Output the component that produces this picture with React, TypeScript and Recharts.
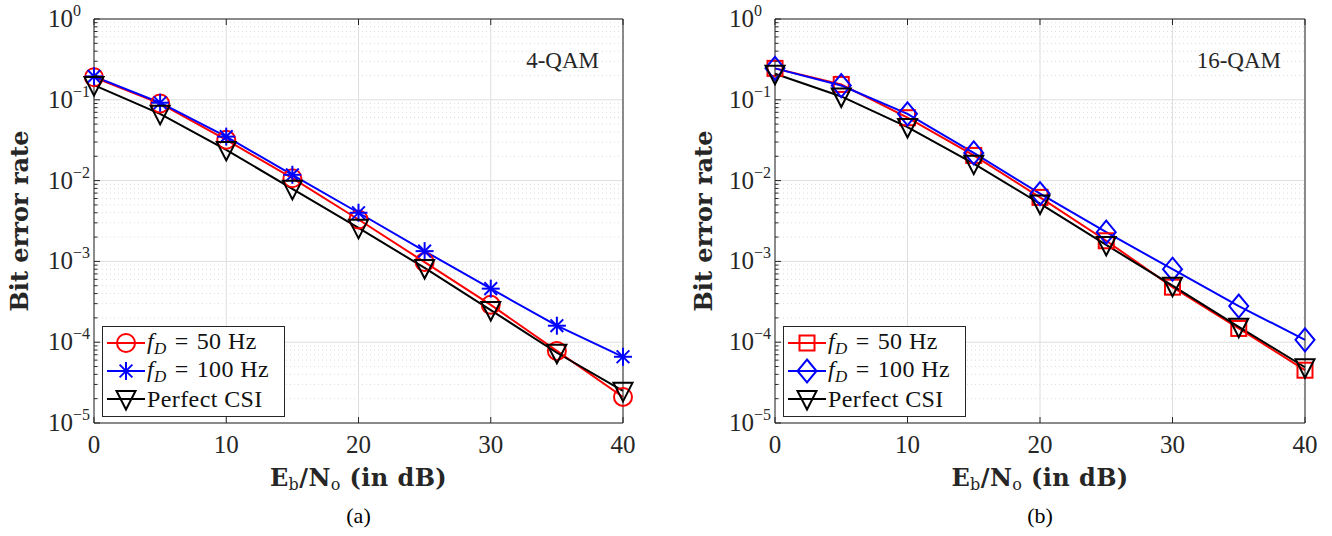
import React from 'react';
import { LineChart, Line, XAxis, YAxis, CartesianGrid } from 'recharts';

// Eb/No in dB
const snr = [0, 5, 10, 15, 20, 25, 30, 35, 40];

// (a) 4-QAM
const qam4Fd50 = [0.19, 0.09, 0.032, 0.0107, 0.0033, 0.00098, 0.00029, 7.8e-5, 2.1e-5];
const qam4Fd100 = [0.195, 0.092, 0.035, 0.0118, 0.004, 0.00134, 0.00046, 0.00016, 6.6e-5];
const qam4Csi = [0.152, 0.067, 0.024, 0.0079, 0.0026, 0.00083, 0.00025, 7.4e-5, 2.5e-5];

// (b) 16-QAM
const qam16Fd50 = [0.245, 0.155, 0.06, 0.0205, 0.0062, 0.0018, 0.00048, 0.000148, 4.5e-5];
const qam16Fd100 = [0.245, 0.15, 0.067, 0.022, 0.0069, 0.0023, 0.0008, 0.00028, 0.000107];
const qam16Csi = [0.21, 0.11, 0.046, 0.0162, 0.0052, 0.0016, 0.0005, 0.000155, 4.9e-5];

const xTicks = [0, 10, 20, 30, 40];
const yMajor = [1e-5, 1e-4, 1e-3, 1e-2, 1e-1, 1];
const yMinor: number[] = [];
for (let k = -5; k < 0; k++) {
  for (let m = 2; m <= 9; m++) yMinor.push(m * Math.pow(10, k));
}
const yTicks = [...yMajor, ...yMinor].sort((a, b) => a - b);

const AXIS = '#262626';
const GRID = '#dedede';
const SERIF = '"Liberation Serif", "Times New Roman", serif';
const BOLD = '"DejaVu Serif", serif';

const PLOT_TOP = 19;
const PLOT_BOTTOM = 423;
const W = 660;
const H = 536;
const LEGEND_W = 183;

type Shape = 'circle' | 'star' | 'triangle' | 'square' | 'diamond';

interface Series {
  key: string;
  label: string; // empty -> "f_D = <hz> Hz"
  hz?: number;
  color: string;
  shape: Shape;
  values: number[];
}

function Marker({ shape, cx, cy, color }: { shape: Shape; cx: number; cy: number; color: string }) {
  const sw = 2;
  switch (shape) {
    case 'circle':
      return <circle cx={cx} cy={cy} r={9} fill="none" stroke={color} strokeWidth={sw} />;
    case 'star': {
      const r = 9;
      const d = r * 0.7071;
      return (
        <g stroke={color} strokeWidth={sw}>
          <line x1={cx} y1={cy - r} x2={cx} y2={cy + r} />
          <line x1={cx - r} y1={cy} x2={cx + r} y2={cy} />
          <line x1={cx - d} y1={cy - d} x2={cx + d} y2={cy + d} />
          <line x1={cx - d} y1={cy + d} x2={cx + d} y2={cy - d} />
        </g>
      );
    }
    case 'triangle':
      return (
        <polygon
          points={`${cx - 9.5},${cy - 8} ${cx + 9.5},${cy - 8} ${cx},${cy + 10.5}`}
          fill="none"
          stroke={color}
          strokeWidth={sw}
        />
      );
    case 'square':
      return <rect x={cx - 7.5} y={cy - 7.5} width={15} height={15} fill="none" stroke={color} strokeWidth={sw} />;
    case 'diamond':
      return (
        <polygon
          points={`${cx},${cy - 11.5} ${cx + 9.5},${cy} ${cx},${cy + 11.5} ${cx - 9.5},${cy}`}
          fill="none"
          stroke={color}
          strokeWidth={sw}
        />
      );
    default:
      return null;
  }
}

const isDecade = (v: number) => Math.abs(Math.log10(v) - Math.round(Math.log10(v))) < 1e-9;

const LeftTick = (props: any) => {
  const { x, y, payload } = props;
  const v = payload.value;
  const major = isDecade(v);
  const exp = Math.round(Math.log10(v));
  return (
    <g>
      <line x1={x} x2={x + (major ? 6 : 3.5)} y1={y} y2={y} stroke={AXIS} strokeWidth={1} />
      {major && (
        <text x={x - 21} y={y + 8} textAnchor="end" fontFamily={SERIF} fontSize={25} fill="#262626">
          10
        </text>
      )}
      {major && (
        <text x={x - 21} y={y - 3} textAnchor="start" fontFamily={SERIF} fontSize={16} fill="#262626">
          {exp === 0 ? '0' : '\u2212' + Math.abs(exp)}
        </text>
      )}
    </g>
  );
};

const RightTick = (props: any) => {
  const { x, y, payload } = props;
  const major = isDecade(payload.value);
  return <line x1={x} x2={x - (major ? 6 : 3.5)} y1={y} y2={y} stroke={AXIS} strokeWidth={1} />;
};

const BottomTick = (props: any) => {
  const { x, y, payload } = props;
  return (
    <g>
      <line x1={x} x2={x} y1={y} y2={y - 6} stroke={AXIS} strokeWidth={1} />
      <text x={x} y={y + 30} textAnchor="middle" fontFamily={SERIF} fontSize={25} fill="#262626">
        {payload.value}
      </text>
    </g>
  );
};

const TopTick = (props: any) => {
  const { x, y } = props;
  return <line x1={x} x2={x} y1={y} y2={y + 6} stroke={AXIS} strokeWidth={1} />;
};

function LegendLabel({ s }: { s: Series }) {
  if (s.hz !== undefined) {
    return (
      <span>
        <i>f</i>
        <sub style={{ fontSize: 17, fontStyle: 'italic', verticalAlign: -5 }}>D</sub>
        <span style={{ margin: '0 8px' }}>=</span>
        {s.hz} Hz
      </span>
    );
  }
  return <span>{s.label}</span>;
}

function Panel({
  divLeft,
  plotLeft,
  plotRight,
  series,
  tag,
  caption,
  ylabelX,
}: {
  divLeft: number;
  plotLeft: number;
  plotRight: number;
  series: Series[];
  tag: string;
  caption: string;
  ylabelX: number;
}) {
  const rows = snr.map((s, i) => {
    const r: Record<string, number> = { snr: s };
    series.forEach((d) => (r[d.key] = d.values[i]));
    return r;
  });
  // axes are 1px wide/high (Recharts skips axes of size 0)
  const margin = {
    top: PLOT_TOP - 1,
    bottom: H - PLOT_BOTTOM - 1,
    left: plotLeft - divLeft - 1,
    right: divLeft + W - plotRight - 1,
  };
  const mid = (plotLeft + plotRight) / 2;

  return (
    <>
      <div style={{ position: 'absolute', left: divLeft, top: 0, width: W, height: H }}>
        <LineChart width={W} height={H} data={rows} margin={margin}>
          <CartesianGrid horizontalValues={yMinor} vertical={false} stroke="#dcdcdc" strokeDasharray="1 3" />
          <CartesianGrid horizontalValues={yMajor} verticalValues={xTicks} stroke={GRID} />
          <XAxis
            dataKey="snr"
            type="number"
            domain={[0, 40]}
            ticks={xTicks}
            interval={0}
            height={1}
            tickSize={0}
            tickMargin={0}
            tickLine={false}
            axisLine={{ stroke: AXIS }}
            tick={BottomTick}
          />
          <XAxis
            xAxisId="top"
            orientation="top"
            dataKey="snr"
            type="number"
            domain={[0, 40]}
            ticks={xTicks}
            interval={0}
            height={1}
            tickSize={0}
            tickMargin={0}
            tickLine={false}
            axisLine={{ stroke: AXIS }}
            tick={TopTick}
          />
          <YAxis
            scale="log"
            type="number"
            domain={[1e-5, 1]}
            ticks={yTicks}
            interval={0}
            width={1}
            tickSize={0}
            tickMargin={0}
            tickLine={false}
            axisLine={{ stroke: AXIS }}
            tick={LeftTick}
          />
          <YAxis
            yAxisId="right"
            orientation="right"
            scale="log"
            type="number"
            domain={[1e-5, 1]}
            ticks={yTicks}
            interval={0}
            width={1}
            tickSize={0}
            tickMargin={0}
            tickLine={false}
            axisLine={{ stroke: AXIS }}
            tick={RightTick}
          />
          {series.map((s) => (
            <Line
              key={s.key}
              dataKey={s.key}
              stroke={s.color}
              strokeWidth={2}
              isAnimationActive={false}
              activeDot={false}
              dot={(p: any) => (
                <Marker key={`${s.key}-${p.index}`} shape={s.shape} cx={p.cx} cy={p.cy} color={s.color} />
              )}
            />
          ))}
        </LineChart>
      </div>

      {/* y label */}
      <div
        style={{
          position: 'absolute',
          left: ylabelX,
          top: (PLOT_TOP + PLOT_BOTTOM) / 2,
          transform: 'translate(-50%, -50%) rotate(-90deg)',
          whiteSpace: 'nowrap',
          fontFamily: BOLD,
          fontWeight: 'bold',
          fontSize: 24,
          color: '#262626',
          lineHeight: 1,
        }}
      >
        Bit error rate
      </div>

      {/* x label */}
      <div
        style={{
          position: 'absolute',
          left: mid,
          top: 479,
          transform: 'translate(-50%, -50%)',
          whiteSpace: 'nowrap',
          fontFamily: BOLD,
          fontWeight: 'bold',
          fontSize: 24,
          letterSpacing: 0.4,
          color: '#262626',
          lineHeight: 1,
        }}
      >
        E<sub style={{ fontSize: 16, fontWeight: 'normal', verticalAlign: -4 }}>b</sub>/N
        <sub style={{ fontSize: 16, fontWeight: 'normal', verticalAlign: -4 }}>o</sub> (in dB)
      </div>

      {/* caption */}
      <div
        style={{
          position: 'absolute',
          left: mid,
          top: 516,
          transform: 'translate(-50%, -50%)',
          fontFamily: SERIF,
          fontSize: 22,
          lineHeight: 1,
        }}
      >
        {caption}
      </div>

      {/* modulation tag */}
      <div
        style={{
          position: 'absolute',
          right: 1332 - plotRight + 24,
          top: 60,
          transform: 'translateY(-50%)',
          fontFamily: SERIF,
          fontSize: 23,
          lineHeight: 1,
          color: '#262626',
        }}
      >
        {tag}
      </div>

      {/* legend */}
      <div
        style={{
          position: 'absolute',
          left: plotLeft + 8,
          top: 326,
          width: LEGEND_W,
          height: 91,
          border: `1px solid ${AXIS}`,
          background: '#fff',
          boxSizing: 'border-box',
          paddingTop: 2,
        }}
      >
        {series.map((s) => (
          <div key={s.key} style={{ display: 'flex', alignItems: 'center', height: 28 }}>
            <svg width={40} height={28} style={{ flex: 'none', marginLeft: 3 }}>
              <line x1={1} x2={39} y1={14} y2={14} stroke={s.color} strokeWidth={2} />
              <Marker shape={s.shape} cx={20} cy={14} color={s.color} />
            </svg>
            <div
              style={{
                fontFamily: SERIF,
                fontSize: 24,
                letterSpacing: 0.4,
                whiteSpace: 'nowrap',
                color: '#111',
                lineHeight: 1,
                marginLeft: 1,
              }}
            >
              <LegendLabel s={s} />
            </div>
          </div>
        ))}
      </div>
    </>
  );
}

const seriesA: Series[] = [
  { key: 'fd50', label: '', hz: 50, color: '#ff0000', shape: 'circle', values: qam4Fd50 },
  { key: 'fd100', label: '', hz: 100, color: '#0000ff', shape: 'star', values: qam4Fd100 },
  { key: 'csi', label: 'Perfect CSI', color: '#000000', shape: 'triangle', values: qam4Csi },
];

const seriesB: Series[] = [
  { key: 'fd50', label: '', hz: 50, color: '#ff0000', shape: 'square', values: qam16Fd50 },
  { key: 'fd100', label: '', hz: 100, color: '#0000ff', shape: 'diamond', values: qam16Fd100 },
  { key: 'csi', label: 'Perfect CSI', color: '#000000', shape: 'triangle', values: qam16Csi },
];

export default function App() {
  return (
    <div
      style={{
        position: 'absolute',
        left: 0,
        top: 0,
        width: 1332,
        height: 536,
        background: '#fff',
        overflow: 'hidden',
      }}
    >
      <Panel divLeft={0} plotLeft={94} plotRight={623} series={seriesA} tag="4-QAM" caption="(a)" ylabelX={20} />
      <Panel divLeft={672} plotLeft={775} plotRight={1305} series={seriesB} tag="16-QAM" caption="(b)" ylabelX={704} />
    </div>
  );
}
